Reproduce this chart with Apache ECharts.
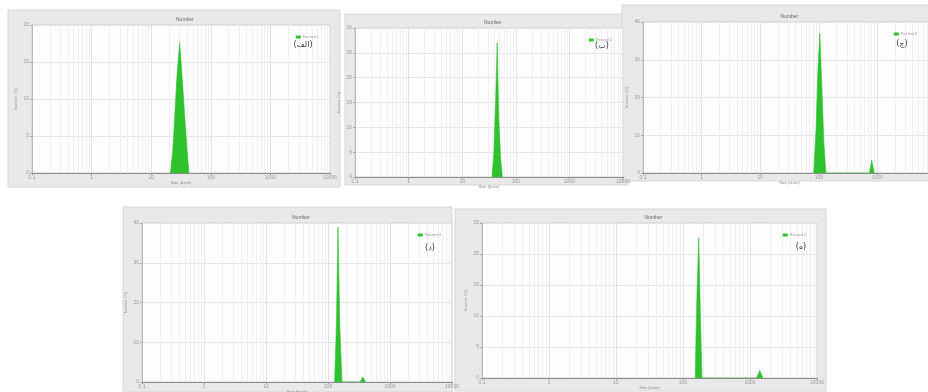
<!DOCTYPE html>
<html>
<head>
<meta charset="utf-8">
<script src="https://cdn.jsdelivr.net/npm/echarts@6/dist/echarts.min.js"></script>
<style>
  html, body { margin: 0; padding: 0; background: #fff; }
  #chart { width: 928px; height: 392px; }
</style>
</head>
<body>
<div id="chart"></div>
<script>
// panel captions and chart titles
const panelLabels = ['(الف)', '(ب)', '(ج)', '(د)', '(ه)']
const chartTitles = ['Number', 'Number', 'Number', 'Number', 'Number']
const recordNames = ['Record 1', 'Record 2', 'Record 3', 'Record 4', 'Record 5']

// size (d.nm) and number (%)
const sizesA = [21, 23, 25, 27, 30, 33, 37, 40, 43]
const countsA = [0, 3, 8, 13, 17.6, 13, 7, 3, 0]
const sizesB = [36, 39, 42, 45, 48, 52, 56]
const countsB = [0, 5, 15, 27, 12, 4, 0]
const sizesC = [82, 90, 97, 104, 112, 122, 132, 730, 800, 880]
const countsC = [0, 12, 28, 37, 24, 8, 0, 0, 3.4, 0]
const sizesD = [128, 137, 145, 155, 168, 330, 365, 400]
const countsD = [0, 15, 39, 14, 0, 0, 1.3, 0]
const sizesE = [152, 162, 172, 182, 192, 1250, 1400, 1560]
const countsE = [0, 14, 22.6, 10, 0, 0, 1.2, 0]

const sizeLists = [sizesA, sizesB, sizesC, sizesD, sizesE]
const countLists = [countsA, countsB, countsC, countsD, countsE]

// y axis ranges
const yMax = [20, 30, 40, 40, 25]
const yStep = [5, 5, 10, 10, 5]

// panel frames [x, y, w, h] and plot areas [left, top, width, height]
const frames = [
  [8, 10, 332, 177],
  [345, 14, 283, 171],
  [622, 5, 316, 176],
  [123, 207, 329, 185],
  [455, 209, 371, 182],
]
const plots = [
  [32, 25, 298, 148],
  [355, 28, 268, 149],
  [643, 22, 293, 151],
  [142, 223, 310, 159],
  [482, 223, 335, 155],
]
const labelPos = [[303, 45], [602, 46], [902, 44], [430, 248], [801, 247]]

const green = '#2ec22e'

// log minor grid positions (2..9 in each decade)
const minorLines = []
for (let d = -1; d < 4; d++) {
  for (let m = 2; m <= 9; m++)
    minorLines.push({ xAxis: +(m * Math.pow(10, d)).toPrecision(3) })
}

const chart = echarts.init(document.getElementById('chart'))

const grid = []
const xAxis = []
const yAxis = []
const series = []
const title = []
const legend = []
const graphic = []

frames.forEach((f) => {
  graphic.push({
    type: 'rect',
    z: -10,
    shape: { x: f[0], y: f[1], width: f[2], height: f[3] },
    style: { fill: '#e9e9e9', stroke: '#d6d6d6', lineWidth: 1 },
  })
})

plots.forEach((p, i) => {
  grid.push({
    left: p[0],
    top: p[1],
    width: p[2],
    height: p[3],
    outerBoundsMode: 'none',
    show: true,
    backgroundColor: '#fdfdfd',
    borderColor: '#cfcfcf',
    borderWidth: 1,
  })
  xAxis.push({
    type: 'log',
    logBase: 10,
    min: 0.1,
    max: 10000,
    gridIndex: i,
    name: 'Size (d.nm)',
    nameLocation: 'middle',
    nameGap: 8,
    nameTextStyle: { fontSize: 4, color: '#888' },
    axisLine: { lineStyle: { color: '#8a8a8a', width: 1 } },
    axisTick: { show: true, length: 2, lineStyle: { color: '#999' } },
    axisLabel: {
      fontSize: 5,
      color: '#999',
      margin: 2,
      formatter: v => String(+v.toPrecision(3)),
    },
    splitLine: { show: true, lineStyle: { color: '#e2e2e2', width: 1 } },
  })
  yAxis.push({
    type: 'value',
    gridIndex: i,
    min: 0,
    max: yMax[i],
    interval: yStep[i],
    name: 'Number (%)',
    nameLocation: 'middle',
    nameGap: 14,
    nameRotate: 90,
    nameTextStyle: { fontSize: 4, color: '#999' },
    axisLine: { show: true, lineStyle: { color: '#b8b8b8' } },
    axisTick: { show: true, length: 2, lineStyle: { color: '#aaa' } },
    axisLabel: { fontSize: 5, color: '#999', margin: 3 },
    splitLine: { show: true, lineStyle: { color: '#e4e4e4', width: 1 } },
  })
  title.push({
    text: chartTitles[i],
    left: p[0] + Math.min(p[2], 928 - p[0]) / 2 - 10,
    top: p[1] - 13,
    textStyle: { fontSize: 5, color: '#666', fontWeight: 'normal' },
  })
  legend.push({
    data: [recordNames[i]],
    right: 928 - (p[0] + Math.min(p[2], 928 - p[0]) - 6),
    top: p[1] + 5,
    icon: 'rect',
    itemWidth: 5,
    itemHeight: 3,
    itemGap: 2,
    selectedMode: false,
    textStyle: { fontSize: 4, color: '#999', padding: [0, 0, 0, -3] },
  })
  graphic.push({
    type: 'text',
    x: labelPos[i][0],
    y: labelPos[i][1],
    style: {
      text: panelLabels[i],
      font: '8px "DejaVu Sans"',
      fill: '#3a3a3a',
      align: 'center',
      verticalAlign: 'middle',
    },
    z: 100,
  })
  series.push({
    name: recordNames[i],
    type: 'line',
    xAxisIndex: i,
    yAxisIndex: i,
    symbol: 'none',
    smooth: false,
    data: sizeLists[i].map((s, k) => [s, countLists[i][k]]),
    lineStyle: { color: green, width: 0.6 },
    itemStyle: { color: green },
    areaStyle: { color: green, opacity: 1 },
    markLine: {
      silent: true,
      symbol: 'none',
      label: { show: false },
      lineStyle: { color: '#efefef', width: 1, type: 'solid' },
      data: minorLines,
      z: 0,
    },
    z: 5,
  })
})

chart.setOption({
  animation: false,
  backgroundColor: '#ffffff',
  title,
  legend,
  grid,
  xAxis,
  yAxis,
  series,
  graphic,
})
</script>
</body>
</html>
